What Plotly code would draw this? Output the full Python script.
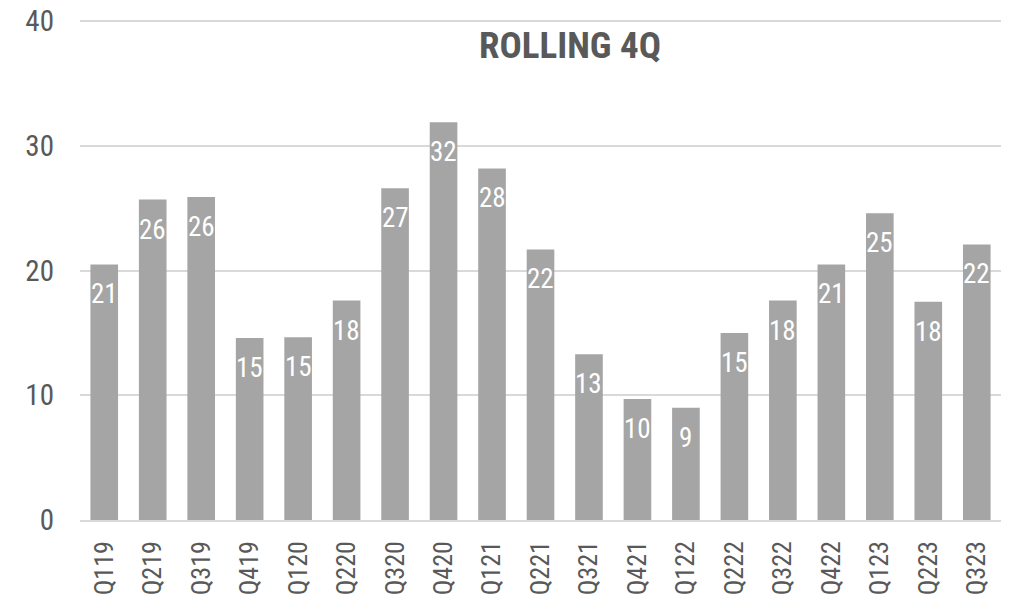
import math
import plotly.graph_objects as go

categories = ["Q119", "Q219", "Q319", "Q419", "Q120", "Q220", "Q320", "Q420", "Q121", "Q221",
              "Q321", "Q421", "Q122", "Q222", "Q322", "Q422", "Q123", "Q223", "Q323"]
values = [20.5, 25.7, 25.9, 14.6, 14.65, 17.6, 26.6, 31.9, 28.2, 21.7,
          13.3, 9.7, 9.0, 15.0, 17.6, 20.5, 24.6, 17.5, 22.1]
y_ticks = [0, 10, 20, 30, 40]
title_text = "ROLLING 4Q"

FONT = "Roboto Condensed, Roboto, sans-serif"
TXT = "#595959"
GRID = "#d9d9d9"

labels = [str(math.floor(v + 0.5)) for v in values]

fig = go.Figure()
fig.add_trace(go.Bar(
    x=categories, y=values,
    marker=dict(color="#a5a5a5", line=dict(width=0)),
    hoverinfo="x+y",
))

for c, v, t in zip(categories, values, labels):
    fig.add_annotation(
        x=c, y=v, xref="x", yref="y", text=t, showarrow=False,
        yshift=-30, yanchor="middle", xanchor="center",
        font=dict(family=FONT, size=27, color="white"),
    )

fig.update_layout(
    width=1012, height=599,
    margin=dict(l=80, r=11, t=20, b=79),
    paper_bgcolor="white", plot_bgcolor="white",
    bargap=0.43,
    showlegend=False,
    title=dict(
        text=f"<b>{title_text}</b>",
        x=(570 - 80) / 921, xref="paper", xanchor="center",
        y=1 - 45 / 599, yref="container", yanchor="middle",
        font=dict(family=FONT, size=37, color=TXT),
    ),
    font=dict(family=FONT, color=TXT),
)
fig.update_yaxes(
    range=[0, 40.1], tickvals=y_ticks, showgrid=True, gridcolor=GRID, gridwidth=1.5,
    zeroline=False, showline=False, ticks="", ticklabelstandoff=25, automargin=False,
    tickfont=dict(family=FONT, size=29, color=TXT),
)
fig.update_xaxes(
    showline=True, linecolor=GRID, linewidth=1.5, ticks="", tickangle=-90,
    ticklabelstandoff=9, automargin=False,
    tickfont=dict(family=FONT, size=26, color=TXT),
)

fig.write_html("out.html", config={"displayModeBar": False},
               post_script="document.body.style.margin='0';")
